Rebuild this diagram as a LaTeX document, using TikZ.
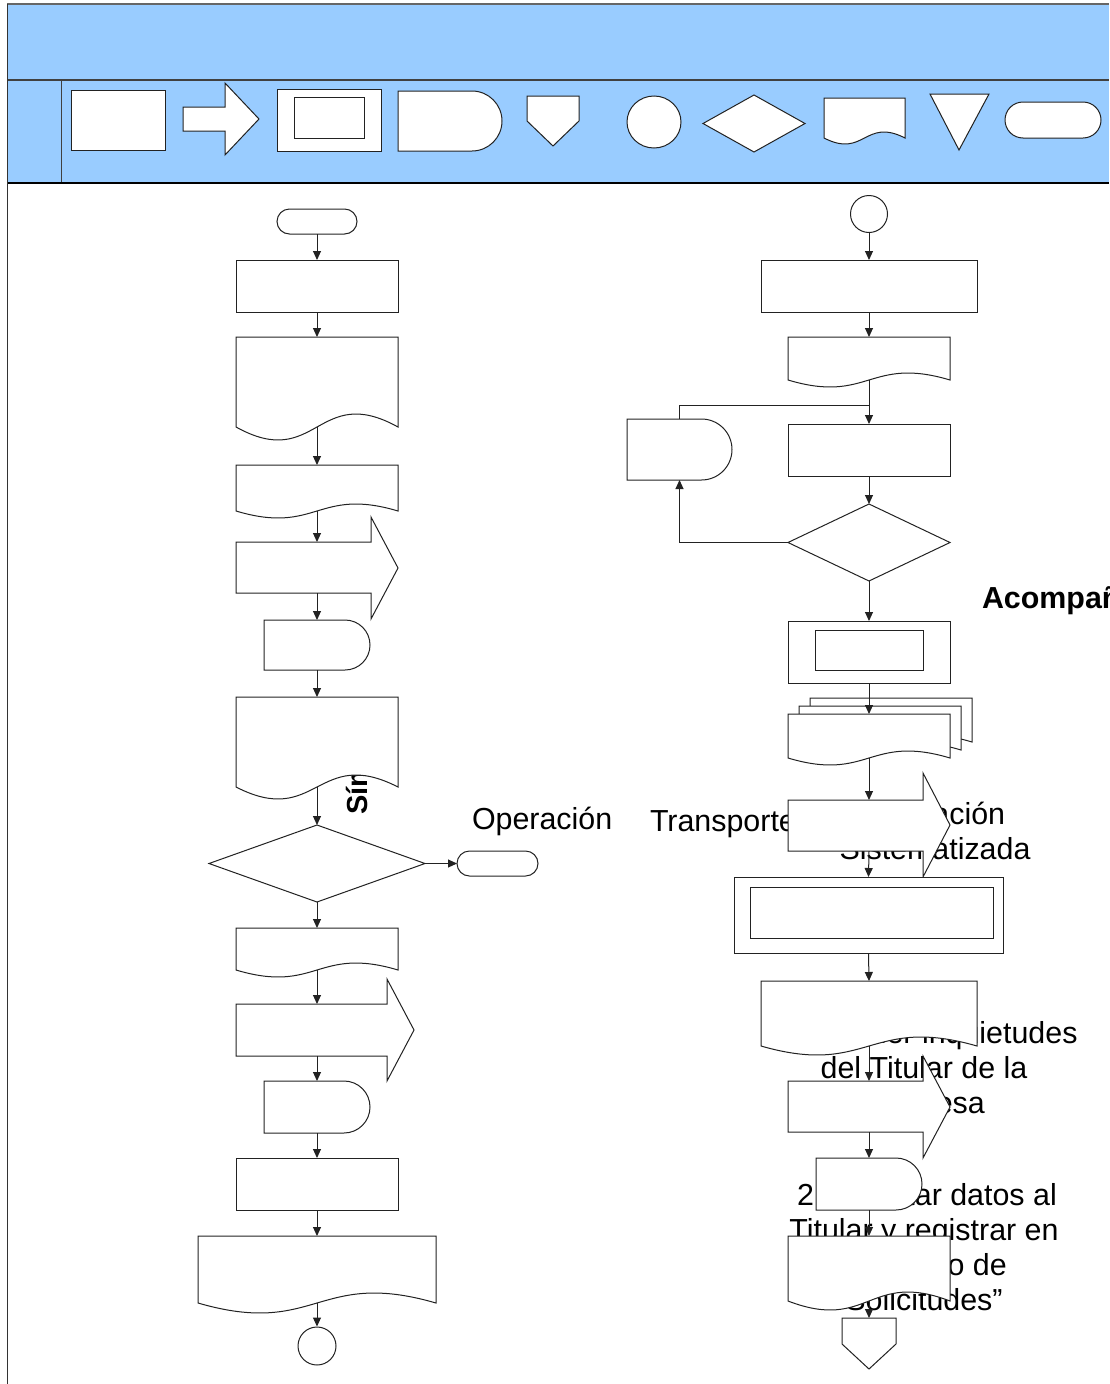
\documentclass[tikz,border=0pt]{standalone}
\usepackage{fontspec}
\setmainfont{Liberation Sans}
\usetikzlibrary{arrows.meta,calc,shapes.geometric}
\definecolor{bandblue}{HTML}{99CCFF}
\definecolor{inkline}{HTML}{222222}

\tikzset{
  frame/.style={rectangle, inner sep=0pt, outer sep=0pt},
  outline/.style={draw=inkline, line width=1pt, fill=white},
  conn/.style={draw=inkline, line width=1pt, -{Triangle[length=9pt,width=8pt]}},
  link/.style={draw=inkline, line width=1pt},
  lbl/.style={font=\fontsize{30.4}{35}\selectfont, inner sep=0pt, outer sep=0pt},
  lblb/.style={font=\fontsize{30.4}{35}\selectfont\bfseries, inner sep=0pt, outer sep=0pt},
}

% rectangle: name, left, top, right, bottom
\newcommand\procbox[5]{%
  \node[frame, outline, minimum width={#4-#2}, minimum height={#5-#3}] (#1) at ({(#2+#4)/2},{(#3+#5)/2}) {};}
% document with wavy foot: name, left, top, right, side bottom, wave depth
\newcommand\docshape[6]{%
  \path[outline] (#2,#3) -- (#4,#3) -- (#4,#5) .. controls ({(#2+#4)/2},{#5-3.46*#6}) and ({(#2+#4)/2},{#5+3.46*#6}) .. (#2,#5) -- cycle;
  \node[frame, minimum width={#4-#2}, minimum height={#5-#3}] (#1) at ({(#2+#4)/2},{(#3+#5)/2}) {};}
% delay: name, left, top, right, bottom
\newcommand\delayshape[5]{%
  \pgfmathsetmacro\dlyR{(#5-#3)/2}%
  \pgfmathsetmacro\dlyM{(#3+#5)/2}%
  \pgfmathsetmacro\dlyS{#4-\dlyR}%
  \pgfmathsetmacro\dlyK{0.5523*\dlyR}%
  \path[outline] (#2,#3) -- (\dlyS,#3) .. controls ({\dlyS+\dlyK},#3) and (#4,{\dlyM-\dlyK}) .. (#4,\dlyM) .. controls (#4,{\dlyM+\dlyK}) and ({\dlyS+\dlyK},#5) .. (\dlyS,#5) -- (#2,#5) -- cycle;
  \node[frame, minimum width={#4-#2}, minimum height={#5-#3}] (#1) at ({(#2+#4)/2},\dlyM) {};}
% block arrow: name, left, body top, head base x, body bottom, head top, head bottom, tip x
\newcommand\arrowshape[8]{%
  \path[outline] (#2,#3) -- (#4,#3) -- (#4,#6) -- (#8,{(#6+#7)/2}) -- (#4,#7) -- (#4,#5) -- (#2,#5) -- cycle;
  \node[frame, minimum width={#8-#2}, minimum height={#5-#3}] (#1) at ({(#2+#8)/2},{(#3+#5)/2}) {};}
% decision: name, left, top, right, bottom
\newcommand\decision[5]{%
  \path[outline] ({(#2+#4)/2},#3) -- (#4,{(#3+#5)/2}) -- ({(#2+#4)/2},#5) -- (#2,{(#3+#5)/2}) -- cycle;
  \node[frame, minimum width={#4-#2}, minimum height={#5-#3}] (#1) at ({(#2+#4)/2},{(#3+#5)/2}) {};}
% predefined process: name, outer l t r b, inner l t r b
\newcommand\predef[9]{%
  \procbox{#1}{#2}{#3}{#4}{#5}%
  \draw[link] (#6,#7) rectangle (#8,#9);}
% off-page connector: name, left, top, right, shoulder, tip
\newcommand\offpage[6]{%
  \path[outline] (#2,#3) -- (#4,#3) -- (#4,#5) -- ({(#2+#4)/2},#6) -- (#2,#5) -- cycle;
  \node[frame, minimum width={#4-#2}, minimum height={#6-#3}] (#1) at ({(#2+#4)/2},{(#3+#6)/2}) {};}
% terminator: name, left, top, right, bottom
\newcommand\terminal[5]{%
  \node[frame, outline, rounded corners={(#5-#3)/2}, minimum width={#4-#2}, minimum height={#5-#3}] (#1) at ({(#2+#4)/2},{(#3+#5)/2}) {};}

\begin{document}
\begin{tikzpicture}[x=1pt,y=-1pt]
\useasboundingbox (0,0) rectangle (1109,1384);
\fill[white] (0,0) rectangle (1109,1384);

% ---- title band and symbol band
\fill[bandblue] (7,4) rectangle (1109,183);
\draw[draw=black!60, line width=2pt] (7,4) -- (1109,4);
\draw[draw=black!75, line width=1.5pt] (7,80) -- (1109,80);
\draw[draw=black!75, line width=1pt] (61,80) -- (61,183);
\draw[draw=black, line width=1.2pt] (7,183) -- (1109,183);
\draw[draw=black!80, line width=1pt] (7,4) -- (7,1384);

% ---- symbols in the band
\procbox{h1}{71}{90}{165}{150}
\arrowshape{h2}{183}{107}{225}{131}{83}{155}{259}
\predef{h3}{277}{89}{381}{151}{294}{97}{364}{138}
\delayshape{h4}{398}{91}{502}{151}
\offpage{h5}{527}{96}{579}{121}{146}
\node[outline, ellipse, minimum width=54, minimum height=52, inner sep=0pt] (h6) at (654,122) {};
\decision{h7}{703}{95}{805}{152}
\docshape{h8}{824}{98}{905}{138}{6}
\path[outline] (930,94) -- (989,94) -- (959,150) -- cycle;
\node[frame, minimum width=59, minimum height=56] (h9) at (959.5,122) {};
\terminal{h10}{1005}{102}{1101}{138}

% ---- labels (the shapes are laid over them)
\node[font=\fontsize{29}{34}\selectfont\bfseries, inner sep=0pt, rotate=90, anchor=base west] (tsim) at (367,815) {Símbolo};
\node[lbl, anchor=base west] (top1) at (472,829) {Operación};
\node[lbl, anchor=base west] (ttr) at (650,831) {Transporte};
\node[lbl, anchor=base] (top2a) at (935,824) {Operación};
\node[lbl, anchor=base] (top2b) at (935,859) {Sistematizada};
\node[lblb, anchor=base west] (tacm) at (982,608) {Acompañamiento};
\node[lbl, anchor=base] (tq1) at (924,1043) {1. Atender inquietudes};
\node[lbl, anchor=base] (tq2) at (924,1078) {del Titular de la};
\node[lbl, anchor=base] (tq3) at (924,1113) {Empresa};
\node[lbl, anchor=base] (ts1) at (927,1205) {2. Solicitar datos al};
\node[lbl, anchor=base] (ts2) at (924,1240) {Titular y registrar en};
\node[lbl, anchor=base] (ts3) at (924,1275) {“Registro de};
\node[lbl, anchor=base] (ts4) at (924,1310) {Solicitudes”};

% ---- left flow
\terminal{t1}{277}{209}{357}{234}
\procbox{r1}{236}{260}{398}{312}
\docshape{d1}{236}{337}{398}{427}{13}
\docshape{d2}{236}{465}{398}{511}{7}
\arrowshape{a1}{236}{542}{371}{593}{517}{619}{398}
\delayshape{dl1}{264}{620}{370}{670}
\docshape{d3}{236}{697}{398}{787}{12}
\decision{dm1}{209}{825}{425}{902}
\terminal{t2}{457}{851}{538}{876}
\docshape{d4}{236}{928}{398}{970}{7}
\arrowshape{a2}{236}{1004}{387}{1056}{979}{1081}{414}
\delayshape{dl2}{264}{1081}{370}{1133}
\procbox{r2}{236}{1158}{398}{1210}
\docshape{d5}{198}{1236}{436}{1303}{10}
\node[outline, circle, minimum size=38, inner sep=0pt] (c1) at (317,1346) {};

% ---- right flow
\node[outline, circle, minimum size=37, inner sep=0pt] (c2) at (869,214) {};
\procbox{r3}{761}{260}{977}{312}
\docshape{d6}{788}{337}{950}{380}{7}
\procbox{r4}{788}{424}{950}{476}
\delayshape{dl3}{627}{419}{732}{480}
\decision{dm2}{788}{504}{950}{581}
\predef{pr1}{788}{621}{950}{683}{815}{630}{923}{670}
\docshape{md3}{810}{698}{972}{742}{7}
\docshape{md2}{799}{706}{961}{750}{7}
\docshape{md1}{788}{714}{950}{758}{7}
\arrowshape{a3}{788}{800}{923}{851}{773}{877}{950}
\predef{pr2}{734}{877}{1003}{953}{750}{887}{993}{938}
\docshape{d7}{761}{981}{977}{1046}{9}
\arrowshape{a4}{788}{1081}{923}{1132}{1056}{1158}{950}
\delayshape{dl4}{816}{1158}{922}{1210}
\docshape{d8}{788}{1236}{950}{1301}{9}
\offpage{op1}{842}{1318}{896}{1344}{1369}

% ---- connectors, left
\draw[conn] (t1.south) -- (r1.north);
\draw[conn] (r1.south) -- (d1.north);
\draw[conn] (d1.south) -- (d2.north);
\draw[conn] (d2.south) -- (a1.north);
\draw[conn] (a1.south) -- (dl1.north);
\draw[conn] (dl1.south) -- (d3.north);
\draw[conn] (d3.south) -- (dm1.north);
\draw[conn] (dm1.east) -- (t2.west);
\draw[conn] (dm1.south) -- (d4.north);
\draw[conn] (d4.south) -- (d4.south |- a2.north);
\draw[conn] (d4.south |- a2.south) -- (dl2.north);
\draw[conn] (dl2.south) -- (r2.north);
\draw[conn] (r2.south) -- (d5.north);
\draw[conn] (d5.south) -- (c1.north);

% ---- connectors, right
\coordinate (j) at (869,405);
\draw[conn] (c2.south) -- (r3.north);
\draw[conn] (r3.south) -- (d6.north);
\draw[conn] (d6.south) -- (r4.north);
\draw[link] (dl3.north) |- (j);
\draw[conn] (r4.south) -- (dm2.north);
\draw[conn] (dm2.west) -| (dl3.south);
\draw[conn] (dm2.south) -- (pr1.north);
\draw[conn] (pr1.south) -- (md1.north);
\draw[conn] (md1.south) -- (a3.north);
\draw[conn] (a3.south) -- (pr2.north);
\draw[conn] (pr2.south) -- (d7.north);
\draw[conn] (d7.south) -- (a4.north);
\draw[conn] (a4.south) -- (dl4.north);
\draw[conn] (dl4.south) -- (d8.north);
\draw[conn] (d8.south) -- (op1.north);
\end{tikzpicture}
\end{document}
